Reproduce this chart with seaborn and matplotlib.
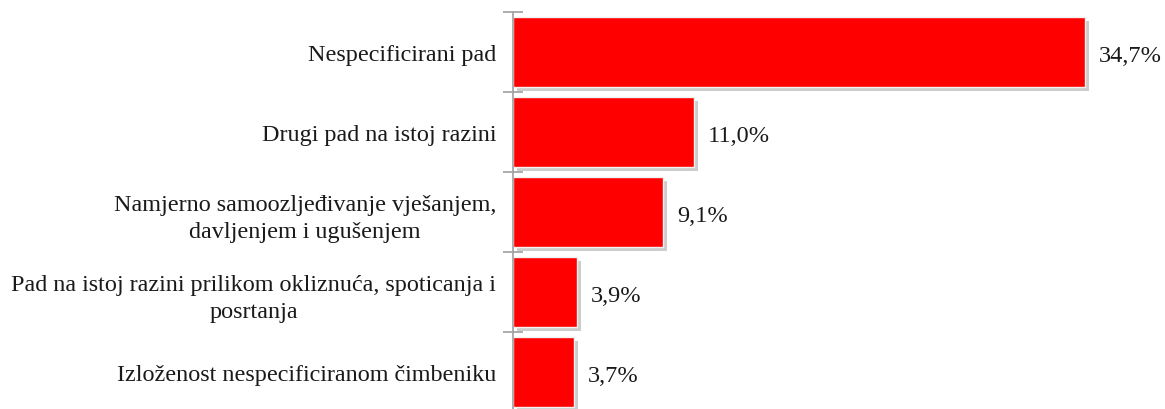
import matplotlib
matplotlib.use("Agg")
import matplotlib.pyplot as plt
import matplotlib.patheffects as pe
import seaborn as sns
import pandas as pd
import numpy as np

categories = [
    "Nespecificirani pad",
    "Drugi pad na istoj razini",
    "Namjerno samoozljeđivanje vješanjem,\ndavljenjem i ugušenjem",
    "Pad na istoj razini prilikom okliznuća, spoticanja i\nposrtanja",
    "Izloženost nespecificiranom čimbeniku",
]
values = [34.7, 11.0, 9.1, 3.9, 3.7]
value_labels = ["34,7%", "11,0%", "9,1%", "3,9%", "3,7%"]

sns.set_style("white")
plt.rcParams['font.family'] = ['Liberation Serif', 'DejaVu Serif']

df = pd.DataFrame({"cat": categories, "val": values})

fig = plt.figure(figsize=(11.65, 4.10), dpi=100)
W, H = 1165, 410
left, right, top, bottom = 513, 1156, 13, 413
ax = fig.add_axes([left / W, 1 - bottom / H, (right - left) / W, (bottom - top) / H])

sns.barplot(data=df, x="val", y="cat", orient="h", color="#ff0000",
            saturation=1, width=0.88, ax=ax, edgecolor="#f2f2f2", linewidth=1.0)

for p in ax.patches:
    p.set_path_effects([pe.SimplePatchShadow(offset=(3, -3), shadow_rgbFace="#808080", alpha=0.4),
                        pe.Normal()])

ax.set_xlim(0, (right - left) / 16.48)
ax.set_ylim(4.5, -0.5)
ax.set_xlabel("")
ax.set_ylabel("")
ax.set_xticks([])

for s in ["top", "right", "bottom"]:
    ax.spines[s].set_visible(False)
ax.spines["left"].set_color("#a6a6a6")
ax.spines["left"].set_linewidth(1.3)

ax.set_yticks(range(len(categories)))
ax.set_yticklabels(categories, fontsize=17.4, color="#1a1a1a")
for lbl in ax.get_yticklabels():
    lbl.set_multialignment("center")
    lbl.set_linespacing(1.4)
ax.tick_params(axis="y", which="major", length=0, pad=12)
ax.set_yticks(np.arange(-0.5, len(categories), 1.0), minor=True)
ax.tick_params(axis="y", which="minor", length=14, width=1.3, color="#a6a6a6", direction="inout", left=True)

for i, (v, t) in enumerate(zip(values, value_labels)):
    ax.annotate(t, xy=(v, i), xytext=(14, -4), textcoords="offset pixels",
                ha="left", va="center", fontsize=17.6, color="#1a1a1a", annotation_clip=False)

fig.savefig("out.png", dpi=100)
